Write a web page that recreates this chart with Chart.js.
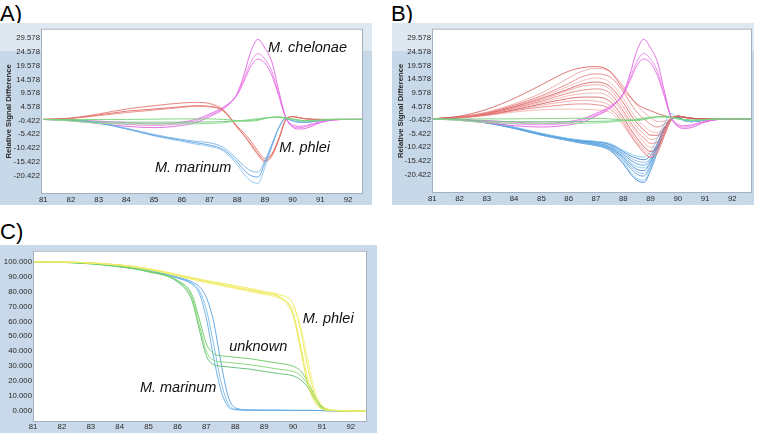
<!DOCTYPE html>
<html lang="en">
<head>
    <meta charset="UTF-8">
    <title>HRM difference plots and melt curves</title>
    <script src="https://cdn.jsdelivr.net/npm/chart.js"></script>
    <style>
        body {
            margin: 0;
            background: #ffffff;
            font-family: "Liberation Sans", Arial, sans-serif;
        }
        .frame {
            position: absolute;
        }
        .frame.banded {
            /* light band at the top of the A and B frames */
            background: linear-gradient(to bottom, #dee8f1 0px, #dee8f1 28px, #c7d8e8 28px, #c7d8e8 100%);
        }
        .frame.plain {
            background: #c9d9e9;
        }
        .frame canvas {
            display: block;
        }
        .panel-letter {
            position: absolute;
            font-size: 22px;
            line-height: 22px;
            color: #000;
        }
    </style>
</head>
<body>
    <div class="panel-letter" style="left:0px;top:3px;">A)</div>
    <div class="panel-letter" style="left:391px;top:3px;">B)</div>
    <div class="panel-letter" style="left:0px;top:221px;">C)</div>

    <div class="frame banded" style="left:0px;top:23px;width:372px;height:182px;">
        <canvas id="chartA" width="372" height="182"></canvas>
    </div>
    <div class="frame banded" style="left:392px;top:23px;width:362px;height:182px;">
        <canvas id="chartB" width="362" height="182"></canvas>
    </div>
    <div class="frame plain" style="left:0px;top:245px;width:377px;height:188px;">
        <canvas id="chartC" width="377" height="188"></canvas>
    </div>

    <script>
        // ---- data -------------------------------------------------------

        // temperatures (x) for the difference plots (A, B)
        const derivTemps = [81, 82, 83, 84, 85, 86, 86.5, 87, 87.5, 88, 88.25, 88.5, 88.75,
                            89, 89.25, 89.5, 89.75, 90, 90.25, 90.5, 91, 91.5, 92, 92.8];

        // temperatures (x) for the normalised melt curves (C)
        const meltTemps = [81, 82, 83, 84, 85, 86, 86.5, 86.75, 87, 87.25, 87.5, 87.75, 88,
                           88.5, 89, 89.5, 90, 90.25, 90.5, 90.75, 91, 91.25, 91.5, 92, 92.8];

        const tempTicks = [81, 82, 83, 84, 85, 86, 87, 88, 89, 90, 91, 92];
        const diffTicks = [-20.422, -15.422, -10.422, -5.422, -0.422, 4.578, 9.578, 14.578, 19.578, 24.578, 29.578];
        const meltTicks = [0, 10, 20, 30, 40, 50, 60, 70, 80, 90, 100];

        // M. chelonae (pink), same three runs in A and B
        const chelonae = [
            [0, -0.5, -1.5, -2.5, -3, -2.2, -1.2, 1, 3.8, 9.5, 16.5, 25, 29.2, 26, 21, 10.5, 0.8, -2.8, -3.5, -3.2, -1.2, -0.2, 0, 0],
            [0, -0.3, -1, -1.8, -2.2, -1.5, -0.5, 1.5, 4.2, 9, 15, 21, 24, 22, 17.5, 9, 0.8, -2.5, -3, -2.6, -1, -0.2, 0, 0],
            [0, -0.2, -0.6, -1.2, -1.6, -1, 0, 2, 4.5, 9, 14, 19.5, 22, 20.5, 16, 8.5, 0.8, -2, -2.5, -2.2, -0.8, -0.1, 0, 0]
        ];

        // reference (green), same in A and B
        const reference = [
            [0, 0, 0, 0, 0.1, 0.2, 0.2, 0.2, 0, -0.4, -0.6, -0.6, -0.3, 0.3, 0.8, 1, 0.6, 0.2, -0.3, -0.5, -0.3, 0, 0, 0],
            [0, -0.6, -1.4, -1.6, -1.6, -1.6, -1.6, -1.5, -1.2, -0.6, -0.3, 0, 0.3, 0.6, 0.8, 0.8, 0.5, 0, -0.4, -0.6, -0.3, 0, 0, 0],
            [0, -0.3, -0.8, -1, -1, -1, -1, -0.9, -0.8, -0.6, -0.5, -0.3, 0, 0.4, 0.7, 0.7, 0.4, 0, -0.3, -0.4, -0.2, 0, 0, 0]
        ];

        // M. phlei (red) in A
        const phleiA = [
            [0, 0.5, 2, 3.8, 5, 6, 6.2, 5.8, 3.5, -2.5, -5, -8, -11.5, -14.2, -12.5, -7, 0, 1.1, 0.6, 0.2, 0, 0, 0, 0],
            [0, 0.4, 1.4, 2.5, 3.4, 4.4, 4.8, 4.6, 3, -3, -6, -9.5, -13, -15.5, -13.5, -7.5, -0.3, 1, 0.6, 0.2, 0, 0, 0, 0],
            [0, 0.4, 1.6, 3, 3.8, 4.6, 5, 4.8, 3.2, -2.8, -5.8, -9, -12.5, -15, -13, -7.2, -0.3, 1, 0.6, 0.2, 0, 0, 0, 0]
        ];

        // M. marinum (blue) in A
        const marinumA = [
            [0, -0.2, -1.2, -3.2, -5.5, -7.3, -8, -8.5, -10.2, -14.5, -17, -18.8, -19.2, -15, -9, -3, 0.3, -0.5, -1, -1, -0.4, 0, 0, 0],
            [0, -0.2, -1.3, -3.4, -5.8, -7.6, -8.5, -9.3, -11, -15.5, -18.5, -20.5, -21, -16, -9.5, -3, 0.3, -0.5, -1, -1, -0.4, 0, 0, 0],
            [0, -0.2, -1.4, -3.5, -6, -8, -9, -9.8, -11.5, -16.5, -20, -22.5, -23.3, -17.5, -10, -3.2, 0.3, -0.5, -1, -1, -0.4, 0, 0, 0]
        ];

        // red group in B
        const phleiB = [
            [0, 1, 3.5, 7.5, 12.5, 17.5, 18.8, 19.2, 17.5, 11, 8, 5.5, 4, 3, 2, 1.2, 0.7, 0.8, 0.5, 0.2, 0, 0, 0, 0],
            [0, 0.8, 2.5, 5.5, 9.5, 15, 17.5, 18.5, 17.5, 12, 8.5, 5, 2.5, 0.5, -1, -0.8, 0, 1, 0.6, 0.2, 0, 0, 0, 0],
            [0, 0.7, 2.3, 5, 8.5, 13, 15.5, 16.5, 15.5, 10, 6, 2.5, 0, -2, -3, -2, 0, 1, 0.6, 0.2, 0, 0, 0, 0],
            [0, 0.7, 2.2, 4.8, 8, 12, 14, 15, 13.5, 7.5, 3.5, 0, -2.5, -4.5, -5, -3, -0.3, 1, 0.6, 0.2, 0, 0, 0, 0],
            [0, 0.6, 2, 4.5, 7.5, 11, 12.8, 13.5, 12, 6, 2, -1.5, -4, -6, -6, -3.5, -0.3, 1, 0.6, 0.2, 0, 0, 0, 0],
            [0, 0.6, 2, 4.3, 7, 10.5, 12, 12.5, 11, 4.5, 0.5, -3, -5.5, -7.5, -7, -4, -0.5, 1, 0.6, 0.2, 0, 0, 0, 0],
            [0, 0.6, 1.8, 4, 6.5, 9.5, 10.5, 11, 9.5, 3, -1, -4.5, -7, -9, -8.5, -4.5, -0.5, 1, 0.6, 0.2, 0, 0, 0, 0],
            [0, 0.5, 1.7, 3.7, 6, 8.5, 9.3, 9.5, 8, 2, -2, -5.5, -8.5, -10.5, -9.5, -5, -0.5, 1, 0.6, 0.2, 0, 0, 0, 0],
            [0, 0.5, 1.6, 3.4, 5.5, 7.5, 8, 8, 6.5, 0.5, -3.5, -7, -10, -12, -10.5, -5.5, -0.5, 1, 0.6, 0.2, 0, 0, 0, 0],
            [0, 0.5, 1.5, 3.2, 5, 6.5, 6.8, 6.5, 5, -0.5, -4.5, -8, -11, -13, -11.5, -6, -0.5, 1, 0.6, 0.2, 0, 0, 0, 0],
            [0, 0.4, 1.4, 3, 4.3, 5.3, 5.5, 5.2, 3.8, -1.5, -5.5, -9, -12, -14.2, -12.5, -6.5, -0.5, 1, 0.6, 0.2, 0, 0, 0, 0],
            [0, 0.4, 1.2, 2.5, 3.3, 3.6, 3.5, 3.3, 2.5, -2.5, -6, -9.5, -12.5, -14, -12, -6, -0.5, 1, 0.6, 0.2, 0, 0, 0, 0]
        ];

        // blue group in B
        const marinumB = [
            [0, -0.2, -1.2, -3, -5.3, -7.2, -7.8, -8.2, -9, -11.5, -12.8, -13.7, -14, -12, -7, -2, 2, 0.3, -0.8, -1, -0.4, 0, 0, 0],
            [0, -0.2, -1.2, -3.1, -5.4, -7.3, -8, -8.4, -9.3, -12, -13.5, -14.5, -15, -13.5, -9, -3.5, 0, 0.6, -0.6, -1, -0.4, 0, 0, 0],
            [0, -0.2, -1.3, -3.2, -5.5, -7.4, -8.1, -8.6, -9.6, -12.5, -14.3, -15.5, -16, -14.5, -9.5, -3.5, 0, 0.6, -0.6, -1, -0.4, 0, 0, 0],
            [0, -0.2, -1.3, -3.2, -5.6, -7.5, -8.2, -8.8, -10, -13, -15, -16.5, -17, -15, -10, -3.8, 0, 0.6, -0.6, -1, -0.4, 0, 0, 0],
            [0, -0.2, -1.3, -3.3, -5.6, -7.6, -8.3, -9, -10.3, -13.5, -15.8, -17.5, -18, -15.5, -10, -3.8, 0, 0.6, -0.6, -1, -0.4, 0, 0, 0],
            [0, -0.2, -1.4, -3.3, -5.7, -7.6, -8.4, -9.1, -10.5, -14, -16.5, -18.5, -19, -16, -10, -3.8, 0, 0.6, -0.6, -1, -0.4, 0, 0, 0],
            [0, -0.2, -1.4, -3.4, -5.8, -7.7, -8.5, -9.3, -10.8, -14.5, -17.3, -19.3, -20, -17, -10.5, -4, 0, 0.6, -0.6, -1, -0.4, 0, 0, 0],
            [0, -0.2, -1.4, -3.4, -5.8, -7.8, -8.6, -9.5, -11, -15, -18, -20.3, -21, -17.5, -11, -4, 0, 0.6, -0.6, -1, -0.4, 0, 0, 0],
            [0, -0.2, -1.5, -3.5, -5.9, -7.9, -8.8, -9.7, -11.3, -15.8, -19.3, -21.8, -22.5, -18.5, -11.5, -4, 0, 0.6, -0.6, -1, -0.4, 0, 0, 0],
            [0, -0.2, -1.5, -3.5, -6, -8, -9, -9.8, -11.5, -16.5, -20, -22.5, -23.3, -19, -12, -4, 0, 0.6, -0.6, -1, -0.4, 0, 0, 0]
        ];

        // normalised melt curves (C)
        const marinumC = [
            [100, 99.8, 99, 97.5, 94.5, 89, 85, 79, 62, 36, 14, 3, 0.8, 0.5, 0.4, 0.4, 0.3, 0.3, 0.3, 0.3, 0.2, 0.1, 0, 0, 0],
            [100, 99.8, 99, 97.6, 94.7, 89.5, 85.5, 81, 68, 45, 20, 5, 1, 0.5, 0.4, 0.4, 0.3, 0.3, 0.3, 0.3, 0.2, 0.1, 0, 0, 0],
            [100, 99.8, 99.1, 97.8, 95, 90, 86.5, 83.5, 76, 60, 33, 10, 2, 0.6, 0.4, 0.4, 0.3, 0.3, 0.3, 0.3, 0.2, 0.1, 0, 0, 0]
        ];
        const unknownC = [
            [100, 99.7, 98.8, 97, 93.8, 87.5, 78, 62, 45, 38.5, 37, 36.5, 36, 35, 33.5, 32, 30, 27, 20, 10, 3, 0.8, 0.3, 0, 0],
            [100, 99.7, 98.7, 96.8, 93.5, 87, 76, 58, 40, 34, 33, 32.5, 32, 31, 29.5, 28, 26.5, 24, 18, 9, 2.5, 0.6, 0.2, 0, 0],
            [100, 99.6, 98.6, 96.6, 93.2, 86.5, 74, 55, 37, 31, 30, 29.5, 29, 28, 26.5, 25, 23.5, 21, 16, 8, 2, 0.5, 0.2, 0, 0]
        ];
        const phleiC = [
            [100, 99.9, 99.2, 97.8, 95.2, 91, 88.8, 87.8, 86.8, 85.8, 85, 84, 83, 81.3, 79.3, 77, 66, 45, 22, 8, 1.5, 0.4, 0.1, 0, 0],
            [100, 99.9, 99.3, 98, 95.5, 91.5, 89.5, 88.5, 87.5, 86.6, 85.8, 85, 84, 82.2, 80.2, 78, 72, 55, 30, 11, 3, 0.8, 0.2, 0, 0],
            [100, 99.9, 99.1, 97.6, 94.8, 90.5, 88.2, 87, 86, 85, 84, 83, 82, 80, 78, 75.5, 69, 58, 35, 14, 4, 1, 0.3, 0, 0],
            [100, 99.9, 99.2, 97.7, 95, 90.8, 88.5, 87.4, 86.4, 85.4, 84.5, 83.5, 82.5, 80.7, 78.7, 76.3, 64, 42, 19, 6, 1.2, 0.3, 0.1, 0, 0]
        ];

        // ---- helpers ----------------------------------------------------

        const FONT = '"Liberation Sans", Arial, sans-serif';

        function lines(xs, curves, colors) {
            return curves.map((ys, i) => ({
                data: xs.map((x, j) => ({ x: x, y: ys[j] })),
                borderColor: colors[i % colors.length],
                borderWidth: 1,
                pointRadius: 0,
                fill: false,
                cubicInterpolationMode: 'monotone'
            }));
        }

        // white plot area, grey border and the italic species labels
        const plotBox = {
            id: 'plotBox',
            beforeDraw(chart) {
                const a = chart.chartArea;
                const ctx = chart.ctx;
                ctx.save();
                ctx.fillStyle = '#ffffff';
                ctx.fillRect(a.left, a.top, a.right - a.left, a.bottom - a.top);
                ctx.restore();
            },
            afterDatasetsDraw(chart, args, opts) {
                const a = chart.chartArea;
                const ctx = chart.ctx;
                ctx.save();
                ctx.strokeStyle = '#a3b1bf';
                ctx.lineWidth = 1;
                ctx.strokeRect(a.left + 0.5, a.top + 0.5, a.right - a.left - 1, a.bottom - a.top - 1);
                ctx.fillStyle = '#111111';
                ctx.font = 'italic 14.5px ' + FONT;
                ctx.textBaseline = 'alphabetic';
                (opts.notes || []).forEach(n => {
                    ctx.fillText(n.text, chart.scales.x.getPixelForValue(n.x), chart.scales.y.getPixelForValue(n.y));
                });
                ctx.restore();
            }
        };

        function makeChart(id, cfg) {
            return new Chart(document.getElementById(id), {
                type: 'line',
                data: { datasets: cfg.datasets },
                plugins: [plotBox],
                options: {
                    responsive: false,
                    animation: false,
                    events: [],
                    layout: { padding: cfg.padding },
                    scales: {
                        x: {
                            type: 'linear',
                            min: cfg.xMin,
                            max: cfg.xMax,
                            grid: { display: false, drawTicks: false },
                            border: { display: false },
                            ticks: {
                                color: '#2a2a2a',
                                font: { size: 7.8, family: FONT },
                                padding: cfg.xPad,
                                autoSkip: false,
                                maxRotation: 0,
                                callback: v => String(v)
                            },
                            afterBuildTicks: s => { s.ticks = tempTicks.map(v => ({ value: v })); },
                            afterFit: s => { s.height = 11; }
                        },
                        y: {
                            type: 'linear',
                            min: cfg.yMin,
                            max: cfg.yMax,
                            grid: { display: false, drawTicks: false },
                            border: { display: false },
                            ticks: {
                                color: '#2a2a2a',
                                font: { size: 7.8, family: FONT },
                                padding: 1,
                                autoSkip: false,
                                callback: v => v.toFixed(3)
                            },
                            title: {
                                display: !!cfg.yTitle,
                                text: cfg.yTitle || '',
                                color: '#2a2a2a',
                                font: { size: 7.7, weight: 'bold', family: FONT },
                                padding: { top: 4.4, bottom: 0 }
                            },
                            afterBuildTicks: s => { s.ticks = cfg.yTicks.map(v => ({ value: v })); },
                            afterFit: s => { s.width = cfg.yWidth; }
                        }
                    },
                    plugins: {
                        legend: { display: false },
                        tooltip: { enabled: false },
                        plotBox: { notes: cfg.notes }
                    }
                }
            });
        }

        // ---- colours ----------------------------------------------------

        const pinkCols = ['rgba(226, 96, 226, 0.9)', 'rgba(236, 130, 232, 0.9)', 'rgba(230, 110, 230, 0.9)'];
        const greenCols = ['rgba(120, 210, 120, 0.9)', 'rgba(140, 220, 140, 0.9)', 'rgba(110, 200, 130, 0.9)'];
        const redColsA = ['rgba(226, 110, 100, 0.85)', 'rgba(232, 130, 120, 0.85)', 'rgba(220, 95, 95, 0.85)'];
        const blueColsA = ['rgba(120, 180, 230, 0.9)', 'rgba(95, 160, 225, 0.9)', 'rgba(140, 195, 235, 0.9)'];
        const redColsB = ['rgba(205, 60, 60, 0.7)', 'rgba(238, 150, 150, 0.75)', 'rgba(225, 100, 100, 0.7)', 'rgba(242, 170, 165, 0.75)'];
        const blueColsB = ['rgba(130, 205, 238, 0.9)', 'rgba(45, 115, 205, 0.8)', 'rgba(140, 190, 236, 0.9)', 'rgba(75, 145, 218, 0.8)'];
        const blueColsC = ['rgba(95, 170, 230, 0.9)', 'rgba(120, 185, 235, 0.9)', 'rgba(85, 160, 225, 0.9)'];
        const greenColsC = ['rgba(100, 200, 100, 0.9)', 'rgba(130, 215, 110, 0.9)', 'rgba(90, 190, 110, 0.9)'];
        const yellowColsC = ['rgba(240, 236, 100, 0.95)', 'rgba(236, 236, 90, 0.95)', 'rgba(246, 242, 140, 0.95)', 'rgba(232, 228, 80, 0.95)'];

        // ---- charts -----------------------------------------------------

        makeChart('chartA', {
            datasets: [].concat(
                lines(derivTemps, reference, greenCols),
                lines(derivTemps, marinumA, blueColsA),
                lines(derivTemps, phleiA, redColsA),
                lines(derivTemps, chelonae, pinkCols)
            ),
            padding: { left: 0, top: 4, right: 9, bottom: 0 },
            xMin: 80.92, xMax: 92.54, xPad: 1,
            yMin: -27.2, yMax: 33.1, yTicks: diffTicks, yWidth: 41,
            yTitle: 'Relative Signal Difference',
            notes: [
                { text: 'M. chelonae', x: 89.11, y: 24.54 },
                { text: 'M. phlei', x: 89.52, y: -11.93 },
                { text: 'M. marinum', x: 85.03, y: -19.15 }
            ]
        });

        makeChart('chartB', {
            datasets: [].concat(
                lines(derivTemps, reference, greenCols),
                lines(derivTemps, chelonae, pinkCols),
                lines(derivTemps, phleiB, redColsB),
                lines(derivTemps, marinumB, blueColsB)
            ),
            padding: { left: 0, top: 4, right: 2, bottom: 1 },
            xMin: 80.99, xMax: 92.72, xPad: 1,
            yMin: -27.2, yMax: 33.1, yTicks: diffTicks, yWidth: 40,
            yTitle: 'Relative Signal Difference',
            notes: []
        });

        makeChart('chartC', {
            datasets: [].concat(
                lines(meltTemps, phleiC, yellowColsC),
                lines(meltTemps, unknownC, greenColsC),
                lines(meltTemps, marinumC, blueColsC)
            ),
            padding: { left: 0, top: 3, right: 10, bottom: 0 },
            xMin: 81, xMax: 92.56, xPad: 0,
            yMin: -7.46, yMax: 107.46, yTicks: meltTicks, yWidth: 33,
            yTitle: '',
            notes: [
                { text: 'M. phlei', x: 90.34, y: 58.78 },
                { text: 'unknown', x: 87.79, y: 40.09 },
                { text: 'M. marinum', x: 84.70, y: 12.55 }
            ]
        });
    </script>
</body>
</html>
